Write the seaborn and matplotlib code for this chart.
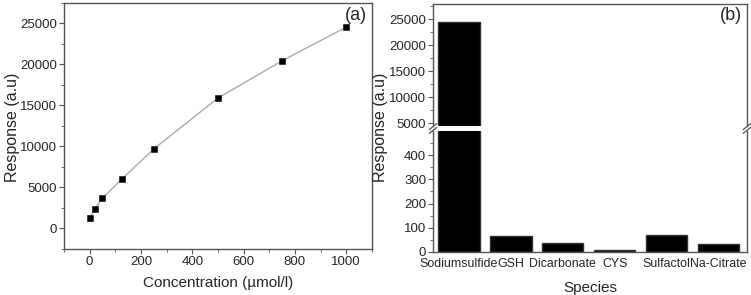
import numpy as np
import pandas as pd
import matplotlib
matplotlib.use("Agg")
import matplotlib.pyplot as plt
from matplotlib.ticker import MultipleLocator
import seaborn as sns

sns.set_style("ticks")
plt.rcParams['font.family'] = ['Liberation Sans', 'DejaVu Sans']

# (a) calibration data
conc = [0, 20, 50, 125, 250, 500, 750, 1000]
response = [1300, 2400, 3700, 6000, 9700, 15900, 20450, 24550]

# (b) selectivity data
species = ["Sodiumsulfide", "GSH", "Dicarbonate", "CYS", "Sulfactol", "Na-Citrate"]
species_resp = [24600, 65, 35, 8, 72, 32]

df_a = pd.DataFrame({"conc": conc, "resp": response})
df_b = pd.DataFrame({"species": species, "resp": species_resp})

fig = plt.figure(figsize=(7.51, 2.95), dpi=100)
ax1 = fig.add_axes([0.0852, 0.156, 0.41, 0.834])
ax_up = fig.add_axes([0.5766, 0.573, 0.418, 0.414])
ax_lo = fig.add_axes([0.5766, 0.146, 0.418, 0.410])

spine_col = "#555555"

def style(ax):
    for s in ax.spines.values():
        s.set_color(spine_col)
        s.set_linewidth(1.0)
        s.set_visible(True)
    ax.tick_params(which="both", direction="out", color=spine_col, labelsize=9.5,
                   right=False, top=False, pad=1.5)
    ax.tick_params(which="major", length=3.5)
    ax.tick_params(which="minor", length=2)

# panel (a)
sns.lineplot(data=df_a, x="conc", y="resp", ax=ax1, color="#aaaaaa", lw=1.0)
sns.scatterplot(data=df_a, x="conc", y="resp", ax=ax1, marker="s", color="black",
                s=22, edgecolor="black", zorder=3)
ax1.set_xlim(-100, 1100)
ax1.set_ylim(-2500, 27500)
ax1.xaxis.set_major_locator(MultipleLocator(200))
ax1.xaxis.set_minor_locator(MultipleLocator(100))
ax1.yaxis.set_major_locator(MultipleLocator(5000))
ax1.yaxis.set_minor_locator(MultipleLocator(2500))
ax1.set_xlabel("Concentration (µmol/l)", fontsize=11, labelpad=6)
ax1.set_ylabel("")
fig.text(0.017, 0.57, "Response (a.u)", rotation=90, ha="center", va="center", fontsize=11.5)
ax1.text(0.985, 0.985, "(a)", transform=ax1.transAxes, ha="right", va="top", fontsize=13)
style(ax1)

# panel (b) with broken axis
for ax in (ax_up, ax_lo):
    sns.barplot(data=df_b, x="species", y="resp", ax=ax, color="black",
                edgecolor="#333333", width=0.8, saturation=1)
    ax.set_xlim(-0.5, 5.55)
    style(ax)

ax_up.set_ylim(4500, 28000)
ax_up.yaxis.set_major_locator(MultipleLocator(5000))
ax_up.yaxis.set_minor_locator(MultipleLocator(2500))
ax_up.spines["bottom"].set_visible(False)
ax_up.tick_params(axis="x", which="both", bottom=False, labelbottom=False)
ax_up.set_xlabel("")
ax_up.set_ylabel("")
ax_up.text(0.985, 0.97, "(b)", transform=ax_up.transAxes, ha="right", va="top", fontsize=13)

ax_lo.set_ylim(0, 500)
ax_lo.yaxis.set_major_locator(MultipleLocator(100))
ax_lo.yaxis.set_minor_locator(MultipleLocator(50))
ax_lo.spines["top"].set_visible(False)
ax_lo.tick_params(axis="x", which="both", bottom=False, pad=1, labelsize=8.9)
ax_lo.set_yticks([0, 100, 200, 300, 400])
ax_lo.set_xlabel("Species", fontsize=11, labelpad=8)
ax_lo.set_ylabel("")
fig.text(0.507, 0.57, "Response (a.u)", rotation=90, ha="center", va="center", fontsize=11.5)

# break marks
d = 0.012
kw = dict(color=spine_col, lw=0.9, clip_on=False)
for xpos in (0, 1):
    ax_up.plot([xpos - d, xpos + d], [-0.03, 0.02], transform=ax_up.transAxes, **kw)
    ax_lo.plot([xpos - d, xpos + d], [0.98, 1.03], transform=ax_lo.transAxes, **kw)

fig.savefig("out.png", dpi=100)
